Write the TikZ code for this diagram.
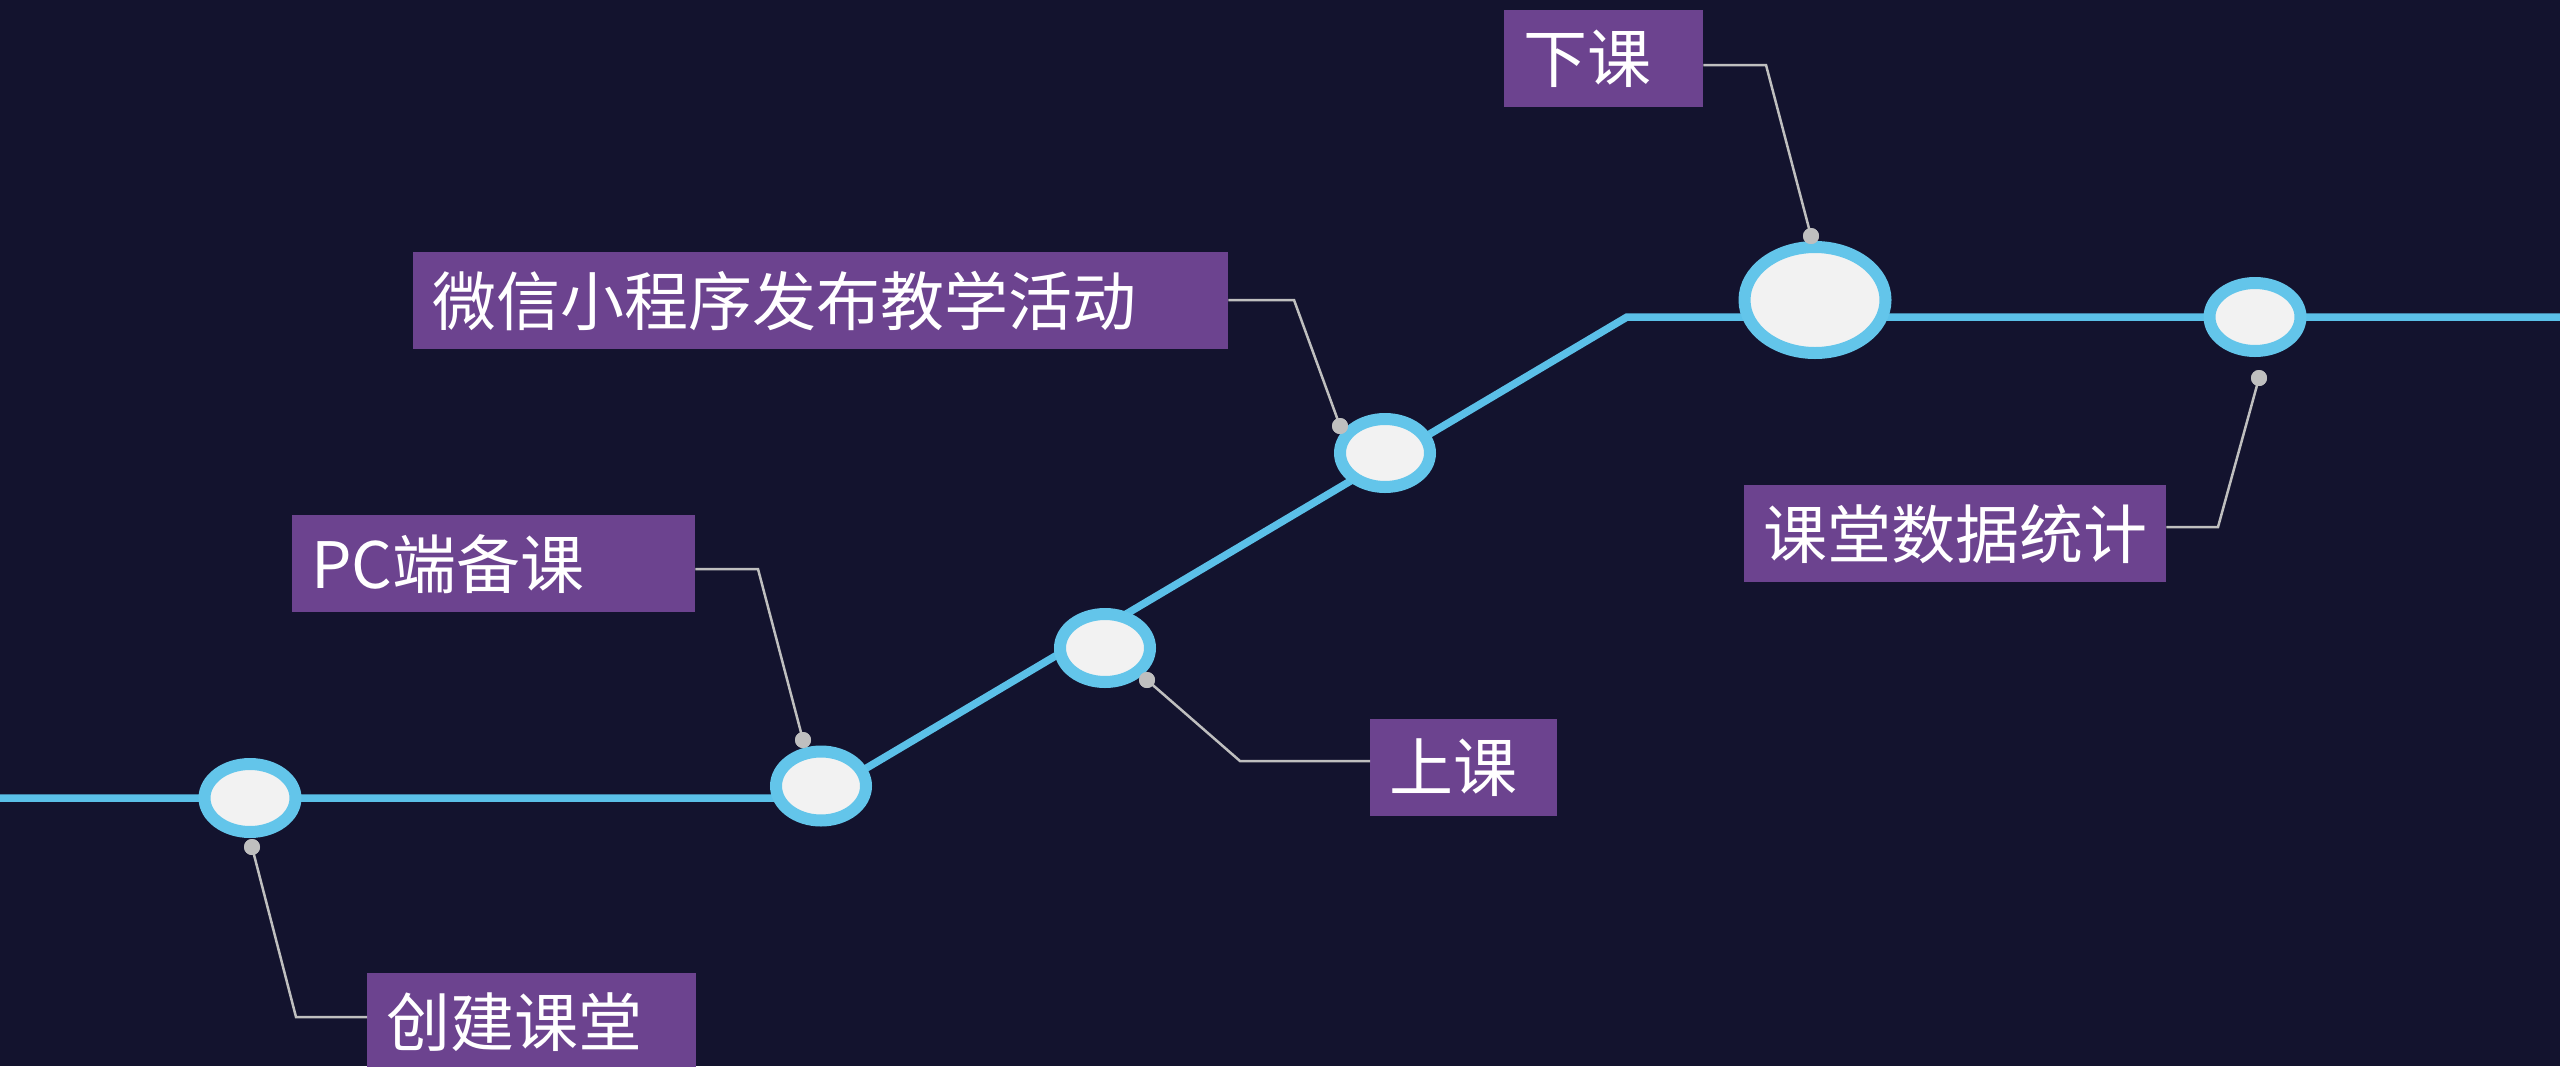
\documentclass[tikz,border=0pt]{standalone}
\usepackage{fontspec}
\newfontfamily\cjk{Noto Sans CJK SC}
\usetikzlibrary{shapes.geometric}
\definecolor{bgnavy}{RGB}{19,19,46}
\definecolor{ringblue}{RGB}{99,197,234}
\definecolor{lineblue}{RGB}{91,192,232}
\definecolor{innerfill}{RGB}{242,242,242}
\definecolor{boxpurple}{RGB}{108,67,143}
\definecolor{leadgray}{RGB}{191,191,191}
\begin{document}
\begin{tikzpicture}[x=1pt,y=-1pt,
  milestone/.style={ellipse, draw=ringblue, line width=12pt, fill=innerfill, inner sep=0pt},
  dotmark/.style={circle, fill=leadgray, minimum size=16pt, inner sep=0pt},
  labelbox/.style={fill=boxpurple, text=white, minimum height=97pt, inner ysep=0pt, inner xsep=19pt, anchor=north west, font=\cjk\fontsize{64}{70}\selectfont},
  track/.style={lineblue, line width=7.5pt},
  leader/.style={leadgray, line width=2.5pt}]
\fill[bgnavy] (0,0) rectangle (2560,1066);
\useasboundingbox (0,0) rectangle (2560,1066);

% track
\coordinate (t0) at (0,798);
\coordinate (t1) at (816,798);
\coordinate (t2) at (1627,317);
\coordinate (t3) at (2560,317);
\draw[track] (t0) -- (t1) -- (t2) -- (t3);

% milestones
\node[milestone, minimum width=91pt, minimum height=68pt] (eA) at (250,798) {};
\node[milestone, minimum width=90pt, minimum height=69pt] (eB) at (821,786) {};
\node[milestone, minimum width=90pt, minimum height=68pt] (eC) at (1105,648) {};
\node[milestone, minimum width=90pt, minimum height=68pt] (eD) at (1385,453) {};
\node[milestone, minimum width=141pt, minimum height=106pt] (eE) at (1815,300) {};
\node[milestone, minimum width=91pt, minimum height=68pt] (eF) at (2255,317) {};

% label boxes
\node[labelbox, minimum width=329pt] (bA) at (367,973) {\makebox[291pt][l]{创建课堂}};
\node[labelbox, minimum width=403pt] (bB) at (292,515) {\makebox[365pt][l]{PC端备课}};
\node[labelbox, minimum width=187pt] (bC) at (1370,719) {\makebox[149pt][l]{上课}};
\node[labelbox, minimum width=815pt] (bD) at (413,252) {\makebox[777pt][l]{微信小程序发布教学活动}};
\node[labelbox, minimum width=199pt] (bE) at (1504,10) {\makebox[161pt][l]{下课}};
\node[labelbox, minimum width=422pt] (bF) at (1744,485) {\makebox[384pt][l]{课堂数据统计}};

% dots
\node[dotmark] (dA) at (252,847) {};
\node[dotmark] (dB) at (803,740) {};
\node[dotmark] (dC) at (1147,680) {};
\node[dotmark] (dD) at (1340,426) {};
\node[dotmark] (dE) at (1811,236) {};
\node[dotmark] (dF) at (2259,378) {};

% leader corners
\coordinate (cA) at (296,1017);
\coordinate (cB) at (758,569);
\coordinate (cC) at (1240,761);
\coordinate (cD) at (1294,300);
\coordinate (cE) at (1766,65);
\coordinate (cF) at (2218,527);

\draw[leader] (bA.west |- cA) -- (cA) -- (dA.center);
\draw[leader] (bB.east |- cB) -- (cB) -- (dB.center);
\draw[leader] (bC.west |- cC) -- (cC) -- (dC.center);
\draw[leader] (bD.east |- cD) -- (cD) -- (dD.center);
\draw[leader] (bE.east |- cE) -- (cE) -- (dE.center);
\draw[leader] (bF.east |- cF) -- (cF) -- (dF.center);

% dots on top of leader ends
\fill[leadgray] (dA) circle (8pt);
\fill[leadgray] (dB) circle (8pt);
\fill[leadgray] (dC) circle (8pt);
\fill[leadgray] (dD) circle (8pt);
\fill[leadgray] (dE) circle (8pt);
\fill[leadgray] (dF) circle (8pt);
\end{tikzpicture}
\end{document}
